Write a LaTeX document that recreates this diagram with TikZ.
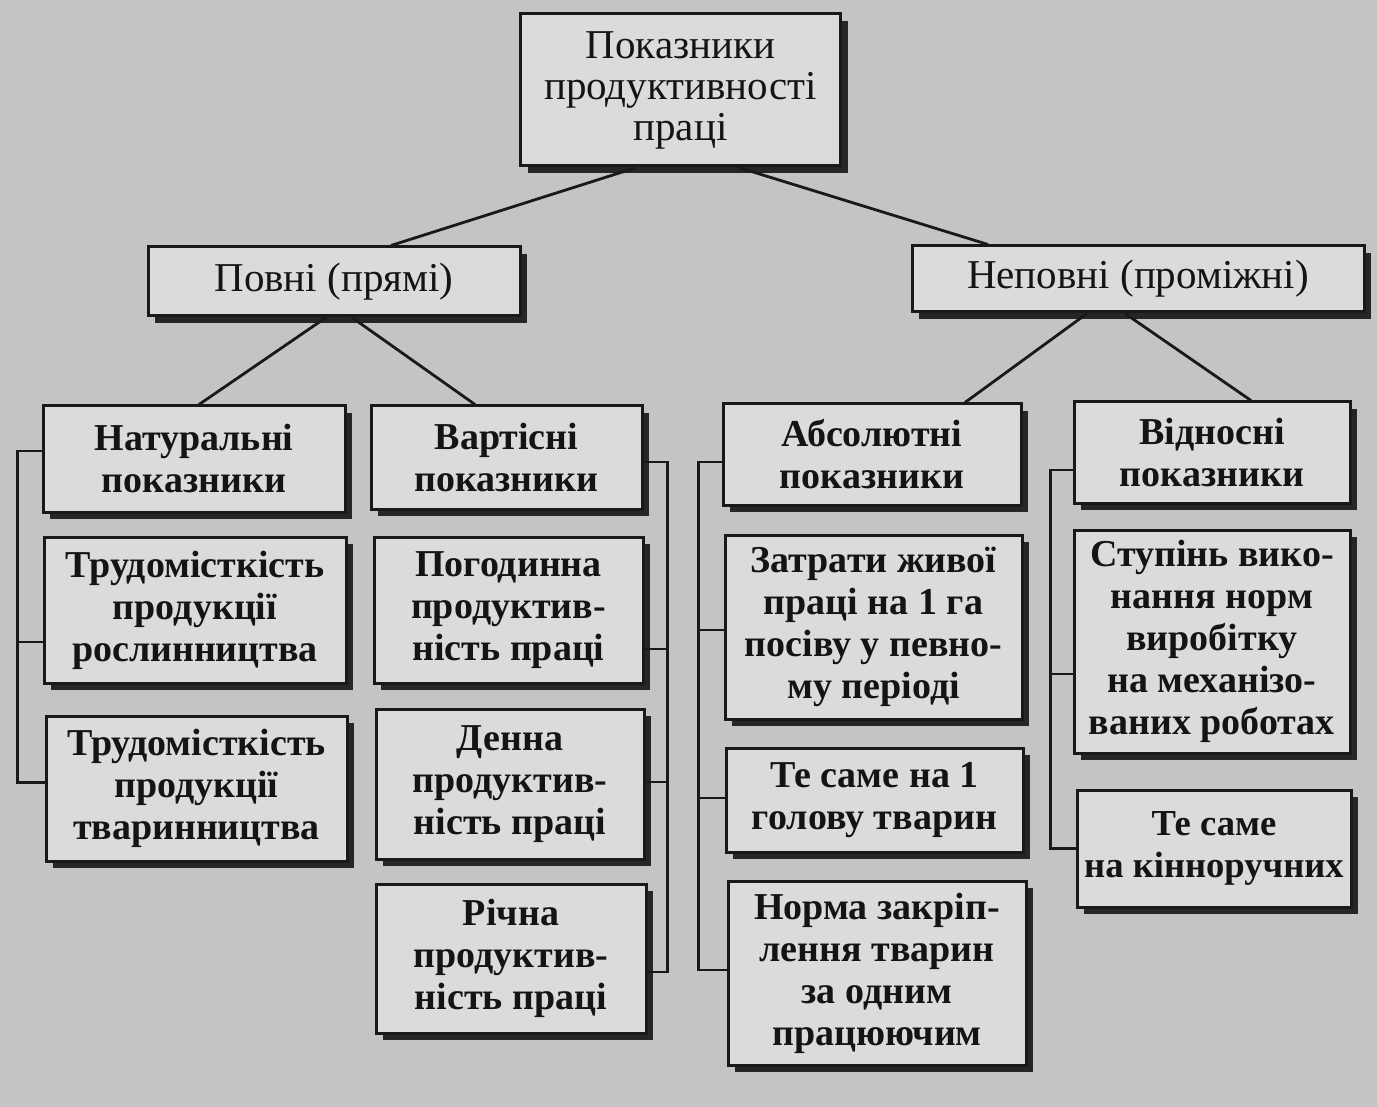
\documentclass[tikz,border=0pt]{standalone}
\usepackage{fontspec}
\setmainfont{Liberation Serif}
\usetikzlibrary{shadows}

\begin{document}
\begin{tikzpicture}[x=0.5pt,y=-0.5pt,
        blok/.style={draw=black!90,line width=1.5pt,fill=black!14,text=black!92,
            align=center,inner sep=0pt,
            drop shadow={shadow xshift=3.5pt,shadow yshift=-3.5pt,fill=black!85,opacity=1}},
        verh/.style={blok,font=\fontsize{20.5}{20.5}\selectfont},
        nyzh/.style={blok,font=\bfseries\fontsize{19}{21}\selectfont},
        liniya/.style={line width=1.4pt,draw=black!90}]
    \fill[black!23] (0,0) rectangle (1377,1107);
    \useasboundingbox (0,0) rectangle (1377,1107);

    % verkhni rivni
    \node[verh,minimum width=160pt,minimum height=76pt] (pok) at (680.5,90)
        {Показники\\продуктивності\\праці};
    \node[verh,minimum width=186pt,minimum height=34.5pt] (povni) at (334,281.5)
        {Повні (прямі)};
    \node[verh,minimum width=226pt,minimum height=33pt] (nepovni) at (1138,279)
        {Неповні (проміжні)};

    % povni
    \node[nyzh,minimum width=151pt,minimum height=53pt] (nat) at (194,459)
        {Натуральні\\показники};
    \node[nyzh,minimum width=151pt,minimum height=73pt] (trosl) at (195,610)
        {Трудомісткість\\продукції\\рослинництва};
    \node[nyzh,minimum width=150.5pt,minimum height=72.5pt] (tvar) at (196.5,788.5)
        {Трудомісткість\\продукції\\тваринництва};
    \node[nyzh,minimum width=135.5pt,minimum height=51.5pt] (vart) at (506.5,457.5)
        {Вартісні\\показники};
    \node[nyzh,minimum width=134.5pt,minimum height=73pt] (pogod) at (508.5,610)
        {Погодинна\\продуктив-\\ність праці};
    \node[nyzh,minimum width=134pt,minimum height=75pt] (denna) at (510,784)
        {Денна\\продуктив-\\ність праці};
    \node[nyzh,minimum width=135pt,minimum height=74.5pt] (richna) at (511,958.5)
        {Річна\\продуктив-\\ність праці};

    % nepovni
    \node[nyzh,minimum width=149pt,minimum height=50.5pt] (abs) at (872,454.5)
        {Абсолютні\\показники};
    \node[nyzh,minimum width=148.5pt,minimum height=92pt] (zatr) at (873.5,627)
        {Затрати живої\\праці на 1 га\\посіву у певно-\\му періоді};
    \node[nyzh,minimum width=148.5pt,minimum height=52pt] (tesame1) at (874.5,800)
        {Те саме на 1\\голову тварин};
    \node[nyzh,minimum width=149pt,minimum height=92pt] (norma) at (877,973)
        {Норма закріп-\\лення тварин\\за одним\\працюючим};
    \node[nyzh,minimum width=138pt,minimum height=50.5pt] (vidn) at (1212,452.5)
        {Відносні\\показники};
    \node[nyzh,minimum width=138pt,minimum height=111.5pt] (stup) at (1212,641.5)
        {Ступінь вико-\\нання норм\\виробітку\\на механізо-\\ваних роботах};
    \node[nyzh,minimum width=137pt,minimum height=58.5pt,font=\bfseries\fontsize{18.3}{21}\selectfont] (tesame2) at (1214,848.5)
        {Те саме\\на кінноручних};

    \draw[liniya] ([xshift=-22pt]pok.south) -- ([xshift=28.5pt]povni.north);
    \draw[liniya] ([xshift=29pt]pok.south) -- ([xshift=-75pt]nepovni.north);
    \draw[liniya] ([xshift=-4pt]povni.south) -- ([xshift=2.5pt]nat.north);
    \draw[liniya] ([xshift=9pt]povni.south) -- ([xshift=-15.75pt]vart.north);
    \draw[liniya] ([xshift=-25.5pt]nepovni.south) -- ([xshift=46.5pt]abs.north);
    \draw[liniya] ([xshift=-6.5pt]nepovni.south) -- ([xshift=19.5pt]vidn.north);

    % duzhky
    \draw[liniya] ([yshift=4pt]nat.west) -- ++(-12pt,0) |- ([yshift=3pt]tvar.west);
    \draw[liniya] ([yshift=-16pt]trosl.west) -- ++(-12.5pt,0);
    \draw[liniya] ([yshift=-2.25pt]vart.east) -- ++(12pt,0) |- ([yshift=-6.75pt]richna.east);
    \draw[liniya] ([yshift=-19.5pt]pogod.east) -- ++(11.5pt,0);
    \draw[liniya] ([yshift=1pt]denna.east) -- ++(11pt,0);
    \draw[liniya] ([yshift=-3.75pt]abs.west) -- ++(-11.5pt,0) |- ([yshift=1.5pt]norma.west);
    \draw[liniya] ([yshift=-1.5pt]zatr.west) -- ++(-12.5pt,0);
    \draw[liniya] ([yshift=1pt]tesame1.west) -- ++(-13pt,0);
    \draw[liniya] ([yshift=-8.75pt]vidn.west) -- ++(-11pt,0) |- (tesame2.west);
    \draw[liniya] ([yshift=-16.25pt]stup.west) -- ++(-11pt,0);
\end{tikzpicture}
\end{document}
